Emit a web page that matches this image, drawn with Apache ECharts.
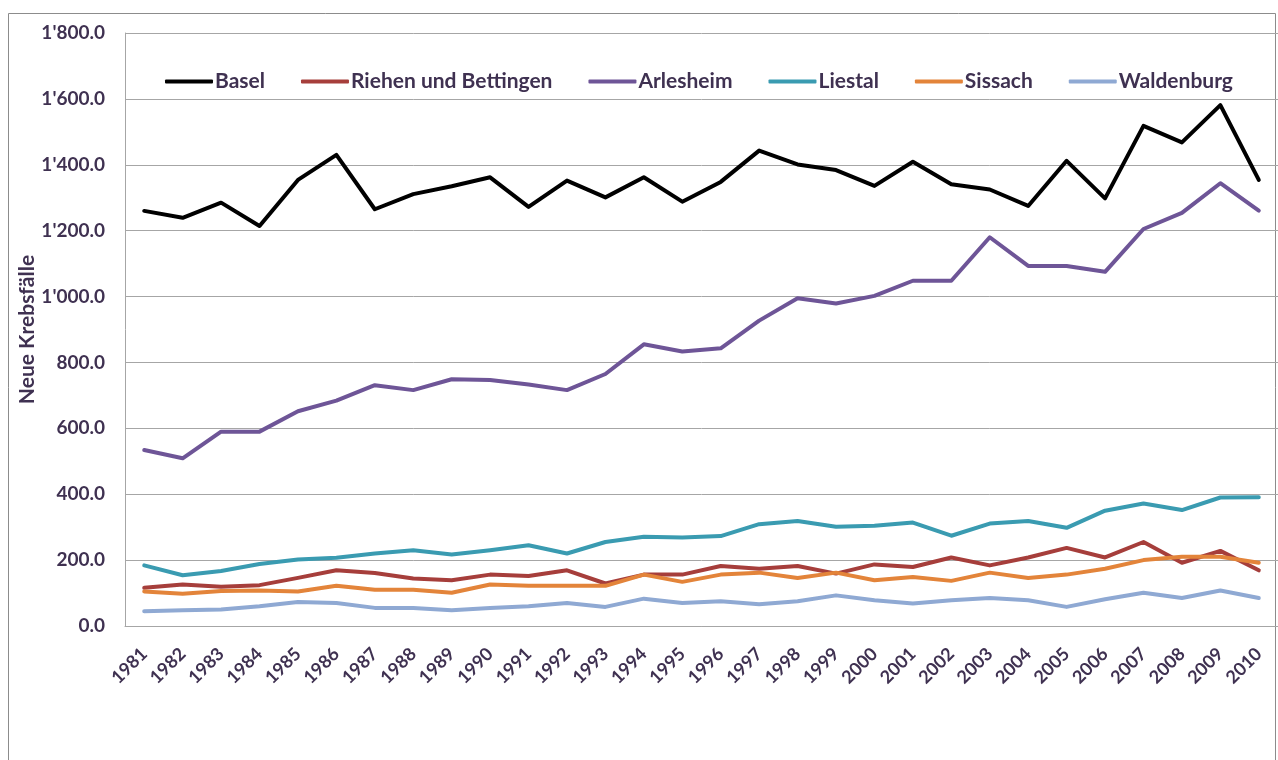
<!DOCTYPE html>
<html>
<head>
<meta charset="utf-8">
<script src="https://cdn.jsdelivr.net/npm/echarts@6/dist/echarts.min.js"></script>
<style>
html,body{margin:0;padding:0;background:#fff;}
#chart{width:1278px;height:760px;}
</style>
</head>
<body>
<div id="chart"></div>
<script>
const years = ['1981','1982','1983','1984','1985','1986','1987','1988','1989','1990','1991','1992','1993','1994','1995','1996','1997','1998','1999','2000','2001','2002','2003','2004','2005','2006','2007','2008','2009','2010'];
const basel      = [1260,1239,1285,1214,1354,1430,1265,1311,1335,1362,1272,1352,1301,1362,1288,1348,1443,1401,1384,1336,1409,1341,1325,1275,1412,1298,1518,1468,1581,1354];
const riehen     = [116,126,119,124,146,169,161,144,139,156,152,169,129,156,156,182,174,182,159,187,179,208,184,208,237,208,255,192,228,169];
const arlesheim  = [534,509,590,590,652,684,731,716,749,747,733,716,765,855,833,843,927,995,979,1002,1048,1048,1180,1093,1093,1075,1205,1254,1344,1261];
const liestal    = [184,154,167,188,202,207,220,230,217,230,245,220,255,271,269,273,309,319,301,304,314,274,311,319,298,350,372,352,390,391];
const sissach    = [105,98,106,108,105,122,110,110,101,126,122,122,122,156,134,156,162,146,162,139,149,137,162,146,156,174,200,210,210,192];
const waldenburg = [45,48,50,60,73,70,55,55,48,55,60,70,58,83,70,75,66,75,93,78,68,78,85,78,58,81,101,85,108,85];
const yTicks = {min: 0, max: 1800, interval: 200};

const seriesDefs = [
  {name: 'Basel', data: basel, color: '#000000'},
  {name: 'Riehen und Bettingen', data: riehen, color: '#A63E3B'},
  {name: 'Arlesheim', data: arlesheim, color: '#6E5597'},
  {name: 'Liestal', data: liestal, color: '#3A9BB1'},
  {name: 'Sissach', data: sissach, color: '#E3843A'},
  {name: 'Waldenburg', data: waldenburg, color: '#8FA9D3'}
];

const txt = '#3F3151';
const font = 'Lato';

function fmt(v){
  const s = v.toFixed(1);
  const parts = s.split('.');
  parts[0] = parts[0].replace(/\B(?=(\d{3})+(?!\d))/g, "'");
  return parts.join('.');
}

const chart = echarts.init(document.getElementById('chart'));
chart.setOption({
  animation: false,
  backgroundColor: '#fff',
  graphic: [{
    type: 'rect', silent: true, z: -10,
    shape: {x: 8.5, y: 13.5, width: 1267, height: 800},
    style: {fill: 'none', stroke: '#8C8C8C', lineWidth: 1}
  }],
  legend: {
    left: 160, top: 66,
    itemWidth: 48, itemHeight: 4, itemGap: 36,
    icon: 'roundRect',
    textStyle: {fontFamily: font, fontWeight: 'bold', fontSize: 21, color: txt, padding: [0,0,0,-3]},
    data: seriesDefs.map(s => s.name)
  },
  grid: {left: 125, top: 33, right: 0, bottom: 134, containLabel: false},
  xAxis: {
    type: 'category', data: years, boundaryGap: true,
    axisLine: {show: true, lineStyle: {color: '#A6A6A6', width: 1}},
    axisTick: {show: false},
    axisLabel: {rotate: 45, margin: 25, interval: 0, fontFamily: font, fontWeight: 'bold', fontSize: 18, color: txt}
  },
  yAxis: {
    type: 'value', min: yTicks.min, max: yTicks.max, interval: yTicks.interval,
    name: 'Neue Krebsfälle', nameLocation: 'middle', nameGap: 87, nameRotate: 90,
    nameMoveOverlap: false,
    nameTextStyle: {fontFamily: font, fontWeight: 'bold', fontSize: 21, color: txt},
    axisLine: {show: true, lineStyle: {color: '#A6A6A6', width: 1}},
    axisTick: {show: false},
    splitLine: {show: true, lineStyle: {color: '#A6A6A6', width: 1}},
    axisLabel: {formatter: fmt, margin: 20, fontFamily: font, fontWeight: 'bold', fontSize: 19, color: txt}
  },
  series: seriesDefs.map(s => ({
    name: s.name, type: 'line', data: s.data,
    symbol: 'none', showSymbol: false,
    lineStyle: {color: s.color, width: 4, cap: 'round', join: 'round'},
    itemStyle: {color: s.color},
    emphasis: {disabled: true}
  }))
});
</script>
</body>
</html>
